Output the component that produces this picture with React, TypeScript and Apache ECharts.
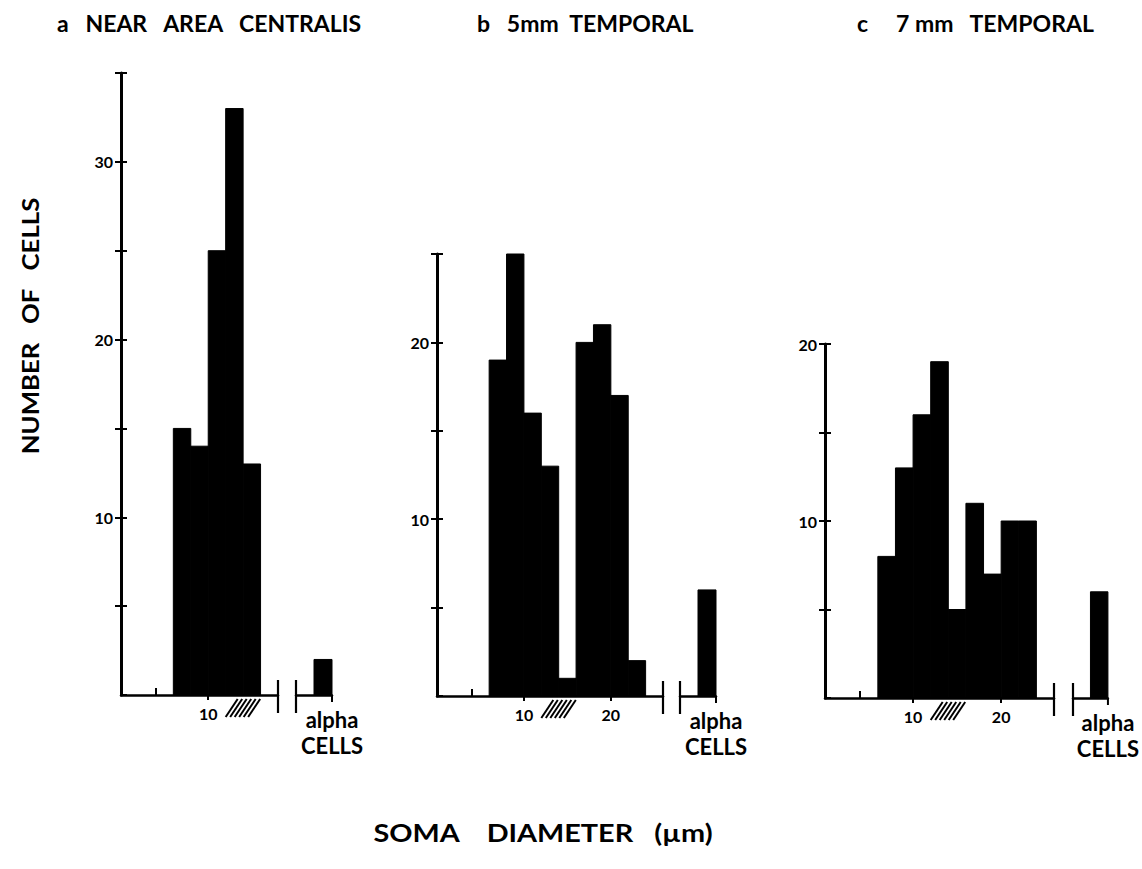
import React, { useEffect, useRef } from "react";
import * as echarts from "echarts";

// ---------- data ----------
const BIN_WIDTH = 2;
const binStartsA = [6, 8, 10, 12, 14];
const countsA = [15, 14, 25, 33, 13];
const binStartsB = [6, 8, 10, 12, 14, 16, 18, 20, 22];
const countsB = [19, 25, 16, 13, 1, 20, 21, 17, 2];
const binStartsC = [6, 8, 10, 12, 14, 16, 18, 20, 22];
const countsC = [8, 13, 16, 19, 5, 11, 7, 10, 10];
const alphaCounts = [2, 6, 6];
const yMaxes = [35, 25, 20];
const xMaxes = [18, 26, 26];
const xTickLabels = [[10], [10, 20], [10, 20]];
const minorTick = [4];
const hatchRange = [12, 16];
const panelTitles = ["a   NEAR   AREA   CENTRALIS", "b   5mm  TEMPORAL", "c     7 mm   TEMPORAL"];
const yTitle = "NUMBER   OF   CELLS";
const xTitle = "SOMA    DIAMETER   (µm)";

// ---------- layout ----------
const FONT = "Lato, 'Open Sans', sans-serif";
const panels = [
  { left: 121, top: 73, width: 157, height: 622, aLeft: 296, aWidth: 36, titleX: 52 },
  { left: 437, top: 254, width: 226, height: 442, aLeft: 680, aWidth: 36, titleX: 472 },
  { left: 825, top: 344, width: 229, height: 354, aLeft: 1073, aWidth: 35, titleX: 852 },
];

export default function App() {
  const ref = useRef<HTMLDivElement>(null);
  useEffect(() => {
    document.body.style.margin = "0";
    const chart = echarts.init(ref.current!, undefined, { renderer: "svg" });
    const binStarts = [binStartsA, binStartsB, binStartsC];
    const counts = [countsA, countsB, countsC];

    const grid: any[] = [];
    const xAxis: any[] = [];
    const yAxis: any[] = [];
    const series: any[] = [];

    panels.forEach((p, i) => {
      grid.push({ left: p.left, top: p.top, width: p.width, height: p.height });
      grid.push({ left: p.aLeft, top: p.top, width: p.aWidth, height: p.height });
      // main x axis
      xAxis.push({
        gridIndex: 2 * i, type: "value", min: 0, max: xMaxes[i],
        axisLine: { lineStyle: { color: "#000", width: 2.5 } },
        axisTick: { show: true, customValues: xTickLabels[i], length: 5, lineStyle: { color: "#000", width: 2 } },
        axisLabel: { customValues: xTickLabels[i], margin: 10, fontSize: 16, fontWeight: "bold", color: "#000", fontFamily: FONT },
        splitLine: { show: false },
      });
      // minor inside tick
      xAxis.push({
        gridIndex: 2 * i, type: "value", min: 0, max: xMaxes[i], position: "bottom",
        axisLine: { show: false },
        axisTick: { show: true, inside: true, customValues: minorTick, length: 7, lineStyle: { color: "#000", width: 2 } },
        axisLabel: { show: false },
        splitLine: { show: false },
      });
      // alpha x axis ("alpha" label)
      xAxis.push({
        gridIndex: 2 * i + 1, type: "value", min: 0, max: 4,
        axisLine: { lineStyle: { color: "#000", width: 2.5 } },
        axisTick: { show: false },
        axisLabel: {
          customValues: [4], margin: 13, color: "#000", fontFamily: FONT, fontSize: 22, fontWeight: "bold",
          formatter: () => "alpha",
        },
        splitLine: { show: false },
      });
      // alpha x axis ("CELLS" label)
      xAxis.push({
        gridIndex: 2 * i + 1, type: "value", min: 0, max: 4, position: "bottom",
        axisLine: { show: false },
        axisTick: { show: false },
        axisLabel: {
          customValues: [4], margin: 39, color: "#000", fontFamily: FONT, fontSize: 22, fontWeight: "bold",
          formatter: () => "CELLS",
        },
        splitLine: { show: false },
      });
      // main y axis
      yAxis.push({
        gridIndex: 2 * i, type: "value", min: 0, max: yMaxes[i], interval: 5,
        axisLine: { show: true, lineStyle: { color: "#000", width: 3 } },
        axisTick: { show: true, length: 6, lineStyle: { color: "#000", width: 2 } },
        axisLabel: {
          margin: 8, fontSize: 16, fontWeight: "bold", color: "#000", fontFamily: FONT, showMaxLabel: true, showMinLabel: false,
          formatter: (v: number) => (v > 0 && v % 10 === 0 ? String(v) : ""),
        },
        splitLine: { show: false },
      });
      yAxis.push({
        gridIndex: 2 * i, type: "value", min: 0, max: yMaxes[i], interval: 5, position: "left",
        axisLine: { show: false },
        axisTick: { show: true, inside: true, length: 6, lineStyle: { color: "#000", width: 2 } },
        axisLabel: { show: false },
        splitLine: { show: false },
      });
      yAxis.push({ gridIndex: 2 * i + 1, type: "value", min: 0, max: yMaxes[i], show: false });

      const barRender = (_params: any, api: any) => {
        const p0 = api.coord([api.value(0), api.value(2)]);
        const p1 = api.coord([api.value(1), 0]);
        return {
          type: "rect",
          shape: { x: p0[0], y: p0[1], width: p1[0] - p0[0], height: p1[1] - p0[1] },
          style: { fill: "#000", stroke: "#000", lineWidth: 1 },
        };
      };
      const xi = 4 * i;
      series.push({
        type: "custom", xAxisIndex: xi, yAxisIndex: 3 * i,
        data: binStarts[i].map((s, k) => [s, s + BIN_WIDTH, counts[i][k]]),
        renderItem: barRender,
      });
      series.push({
        type: "custom", xAxisIndex: xi + 2, yAxisIndex: 3 * i + 2,
        data: [[2, 4, alphaCounts[i]]],
        renderItem: barRender,
      });
      // decorations: break mark + hatch
      series.push({
        type: "custom", xAxisIndex: xi, yAxisIndex: 3 * i, clip: false, silent: true,
        data: [[xMaxes[i], hatchRange[0], hatchRange[1]]],
        renderItem: (_params: any, api: any) => {
          const e = api.coord([api.value(0), 0]);
          const h0 = api.coord([api.value(1), 0]);
          const h1 = api.coord([api.value(2), 0]);
          const children: any[] = [
            { type: "line", shape: { x1: e[0], y1: e[1] - 15, x2: e[0], y2: e[1] + 18 }, style: { stroke: "#000", lineWidth: 2.2 } },
          ];
          const yb = h0[1] + 22, yt = h0[1] + 4, dx = 12;
          for (let x = h0[0]; x + dx <= h1[0] + 0.5; x += 4.5) {
            children.push({ type: "line", shape: { x1: x, y1: yb, x2: x + dx, y2: yt }, style: { stroke: "#000", lineWidth: 2 } });
          }
          return { type: "group", children };
        },
      });
      series.push({
        type: "custom", xAxisIndex: xi + 2, yAxisIndex: 3 * i + 2, clip: false, silent: true,
        data: [[0, 4]],
        renderItem: (_params: any, api: any) => {
          const s = api.coord([api.value(0), 0]);
          const e = api.coord([api.value(1), 0]);
          return {
            type: "group",
            children: [
              { type: "line", shape: { x1: s[0], y1: s[1] - 15, x2: s[0], y2: s[1] + 18 }, style: { stroke: "#000", lineWidth: 2.2 } },
              { type: "line", shape: { x1: e[0], y1: e[1], x2: e[0], y2: e[1] + 7 }, style: { stroke: "#000", lineWidth: 2 } },
            ],
          };
        },
      });
    });

    chart.setOption({
      animation: false,
      backgroundColor: "#fff",
      title: panels.map((p, i) => ({
        text: panelTitles[i], left: p.titleX, top: 6,
        textStyle: { fontSize: 23, fontWeight: "bold", color: "#000", fontFamily: FONT },
      })),
      grid, xAxis, yAxis, series,
      graphic: [
        {
          type: "text", x: 30, y: 326, rotation: Math.PI / 2, scaleX: 1.12,
          style: { text: yTitle, fill: "#000", fontSize: 23, fontWeight: "bold", fontFamily: FONT, textAlign: "center", textVerticalAlign: "middle" },
        },
        {
          type: "text", x: 543, y: 833, scaleX: 1.2,
          style: { text: xTitle, fill: "#000", fontSize: 24, fontWeight: "bold", fontFamily: FONT, textAlign: "center", textVerticalAlign: "middle" },
        },
      ],
    });
    return () => chart.dispose();
  }, []);
  return <div ref={ref} style={{ width: 1142, height: 869 }} />;
}
